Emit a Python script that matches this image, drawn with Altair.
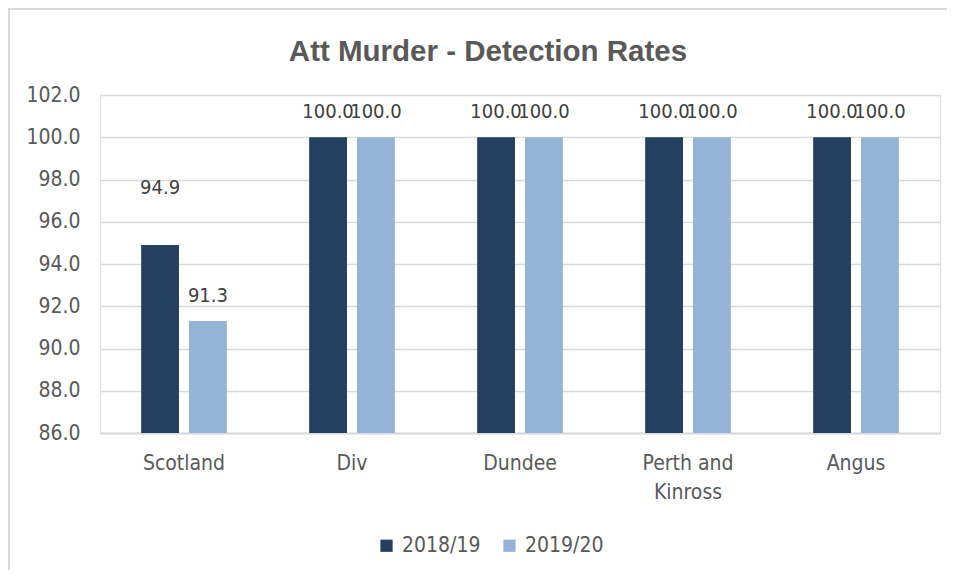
import altair as alt
import pandas as pd

categories = ["Scotland", "Div", "Dundee", "Perth and Kinross", "Angus"]
series = ["2018/19", "2019/20"]
values_1819 = [94.9, 100.0, 100.0, 100.0, 100.0]
values_1920 = [91.3, 100.0, 100.0, 100.0, 100.0]
y_ticks = [86, 88, 90, 92, 94, 96, 98, 100, 102]

rows = []
for c, v in zip(categories, values_1819):
    rows.append({"Area": c, "Year": series[0], "Rate": v})
for c, v in zip(categories, values_1920):
    rows.append({"Area": c, "Year": series[1], "Rate": v})
df = pd.DataFrame(rows)

FONT = "Liberation Sans Narrow, DejaVu Sans Condensed, Liberation Sans, sans-serif"
GREY = "#595959"

x_enc = alt.X("Area:N", sort=categories, title=None,
              scale=alt.Scale(paddingInner=0.49, paddingOuter=0.245),
              axis=alt.Axis(labelAngle=0, labelFontSize=21, labelColor=GREY, labelFont=FONT,
                            labelPadding=19, labelLineHeight=29, ticks=False,
                            domainColor="#d9d9d9", domainWidth=2,
                            labelExpr="datum.label == 'Perth and Kinross' ? ['Perth and', 'Kinross'] : datum.label"))
xo_enc = alt.XOffset("Year:N", sort=series, scale=alt.Scale(paddingInner=0.21))
y_enc = alt.Y("Rate:Q", title=None,
              scale=alt.Scale(domain=[86, 102], zero=False, nice=False),
              axis=alt.Axis(values=y_ticks, format=".1f", labelFontSize=21, labelColor=GREY,
                            labelFont=FONT, labelPadding=20, ticks=False, domain=False,
                            gridColor="#d9d9d9", gridWidth=1.5))
color_enc = alt.Color("Year:N", sort=series,
                      scale=alt.Scale(domain=series, range=["#243F60", "#95B3D7"]),
                      legend=alt.Legend(title=None, orient="none", direction="horizontal",
                                        legendX=276, legendY=440, symbolType="square",
                                        symbolSize=150, symbolStrokeWidth=0, symbolOpacity=1,
                                        labelFontSize=21, labelColor=GREY, labelFont=FONT,
                                        labelOffset=5, columnPadding=18))

bars = alt.Chart(df).mark_bar(clip=True).encode(x=x_enc, xOffset=xo_enc, y=y_enc, color=color_enc)

label_base = alt.Chart(df).encode(
    x=alt.X("Area:N", sort=categories),
    xOffset=alt.XOffset("Year:N", sort=series),
    y=alt.Y("Rate:Q"),
    text=alt.Text("Rate:Q", format=".1f"),
)
labels = label_base.transform_filter(
    "!(datum.Area == 'Scotland' && datum.Year == '2018/19')"
).mark_text(dy=-25, fontSize=20, color="#404040", font=FONT)
label_moved = label_base.transform_filter(
    "datum.Area == 'Scotland' && datum.Year == '2018/19'"
).mark_text(dy=-57, fontSize=20, color="#404040", font=FONT)

frame_df = pd.DataFrame({"k": [0]})
border = alt.Chart(frame_df).mark_rect(fill=None, filled=False, stroke="#d9d9d9", strokeWidth=2).encode(
    x=alt.value(-91), x2=alt.value(900), y=alt.value(-86), y2=alt.value(520))

chart = alt.layer(border, bars, labels, label_moved).properties(
    width=840, height=338,
    title=alt.TitleParams("Att Murder - Detection Rates", fontSize=29.5, font="Liberation Sans, Arial",
                          fontWeight="bold", color=GREY, anchor="middle", offset=-59, dx=-32),
    autosize=alt.AutoSizeParams(type="none"),
    padding={"left": 92, "top": 87, "right": 7, "bottom": 137},
).configure_view(stroke=None).configure(background="white")

chart.save("out.html", embed_options={"renderer": "svg", "actions": False})
